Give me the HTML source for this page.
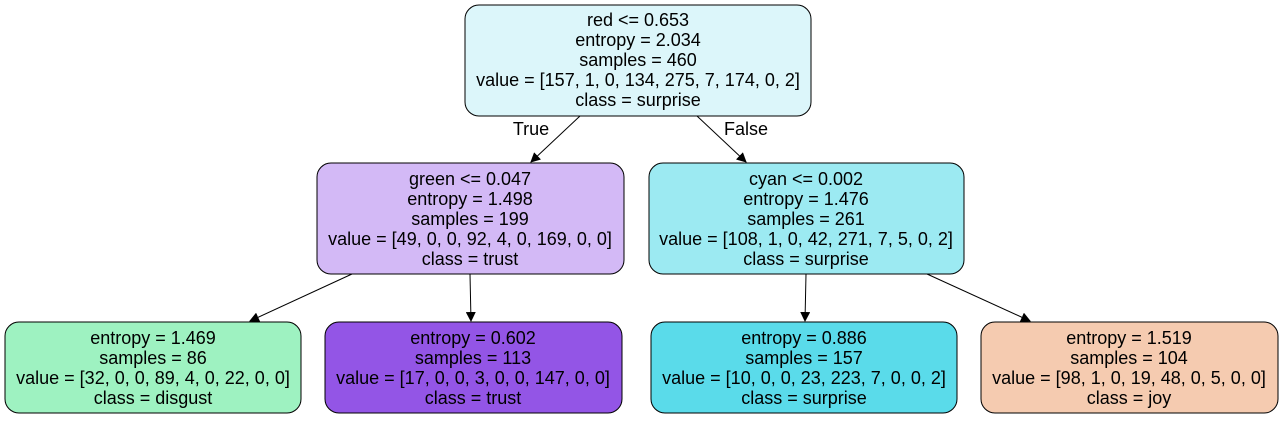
<!DOCTYPE html>
<html><head><meta charset="utf-8"><style>
html,body{margin:0;padding:0;background:#fff;}
svg text{font-family:"Liberation Sans",Arial,sans-serif;font-size:18px;fill:#000;}
</style></head><body>
<svg width="1283" height="419" viewBox="0 0 1283 419">
<defs><marker id="ah" markerWidth="10" markerHeight="10" refX="9" refY="5" orient="auto" markerUnits="userSpaceOnUse"><path d="M0,0 L10,5 L0,10 z" fill="#000"/></marker></defs>
<g stroke="#000" stroke-width="1" marker-end="url(#ah)">
<line x1="580" y1="116" x2="531" y2="162"/>
<line x1="697" y1="116" x2="746" y2="162"/>
<line x1="352" y1="274" x2="250" y2="321"/>
<line x1="470" y1="274" x2="471" y2="321"/>
<line x1="806" y1="274" x2="805" y2="321"/>
<line x1="927" y1="274" x2="1030" y2="321"/>
</g>
<text x="531" y="135" text-anchor="middle">True</text>
<text x="746" y="135" text-anchor="middle">False</text>

<g>
<rect x="465" y="5" width="346" height="111" rx="14" fill="#dcf6fa" stroke="#000"/>
<text x="638" y="26" text-anchor="middle">red &lt;= 0.653</text>
<text x="638" y="46" text-anchor="middle">entropy = 2.034</text>
<text x="638" y="66" text-anchor="middle">samples = 460</text>
<text x="638" y="86" text-anchor="middle">value = [157, 1, 0, 134, 275, 7, 174, 0, 2]</text>
<text x="638" y="106" text-anchor="middle">class = surprise</text>
</g>
<g>
<rect x="317" y="163" width="307" height="111" rx="14" fill="#d3b9f6" stroke="#000"/>
<text x="470" y="185" text-anchor="middle">green &lt;= 0.047</text>
<text x="470" y="205" text-anchor="middle">entropy = 1.498</text>
<text x="470" y="225" text-anchor="middle">samples = 199</text>
<text x="470" y="245" text-anchor="middle">value = [49, 0, 0, 92, 4, 0, 169, 0, 0]</text>
<text x="470" y="265" text-anchor="middle">class = trust</text>
</g>
<g>
<rect x="649" y="163" width="315" height="111" rx="14" fill="#9ceaf2" stroke="#000"/>
<text x="806" y="185" text-anchor="middle">cyan &lt;= 0.002</text>
<text x="806" y="205" text-anchor="middle">entropy = 1.476</text>
<text x="806" y="225" text-anchor="middle">samples = 261</text>
<text x="806" y="245" text-anchor="middle">value = [108, 1, 0, 42, 271, 7, 5, 0, 2]</text>
<text x="806" y="265" text-anchor="middle">class = surprise</text>
</g>
<g>
<rect x="5" y="322" width="296" height="91" rx="14" fill="#9ef2c1" stroke="#000"/>
<text x="153" y="344" text-anchor="middle">entropy = 1.469</text>
<text x="153" y="364" text-anchor="middle">samples = 86</text>
<text x="153" y="384" text-anchor="middle">value = [32, 0, 0, 89, 4, 0, 22, 0, 0]</text>
<text x="153" y="404" text-anchor="middle">class = disgust</text>
</g>
<g>
<rect x="325" y="322" width="297" height="91" rx="14" fill="#9355e6" stroke="#000"/>
<text x="473" y="344" text-anchor="middle">entropy = 0.602</text>
<text x="473" y="364" text-anchor="middle">samples = 113</text>
<text x="473" y="384" text-anchor="middle">value = [17, 0, 0, 3, 0, 0, 147, 0, 0]</text>
<text x="473" y="404" text-anchor="middle">class = trust</text>
</g>
<g>
<rect x="651" y="322" width="306" height="91" rx="14" fill="#5adbea" stroke="#000"/>
<text x="804" y="344" text-anchor="middle">entropy = 0.886</text>
<text x="804" y="364" text-anchor="middle">samples = 157</text>
<text x="804" y="384" text-anchor="middle">value = [10, 0, 0, 23, 223, 7, 0, 0, 2]</text>
<text x="804" y="404" text-anchor="middle">class = surprise</text>
</g>
<g>
<rect x="981" y="322" width="297" height="91" rx="14" fill="#f5cbb0" stroke="#000"/>
<text x="1129" y="344" text-anchor="middle">entropy = 1.519</text>
<text x="1129" y="364" text-anchor="middle">samples = 104</text>
<text x="1129" y="384" text-anchor="middle">value = [98, 1, 0, 19, 48, 0, 5, 0, 0]</text>
<text x="1129" y="404" text-anchor="middle">class = joy</text>
</g>
</svg>
</body></html>
